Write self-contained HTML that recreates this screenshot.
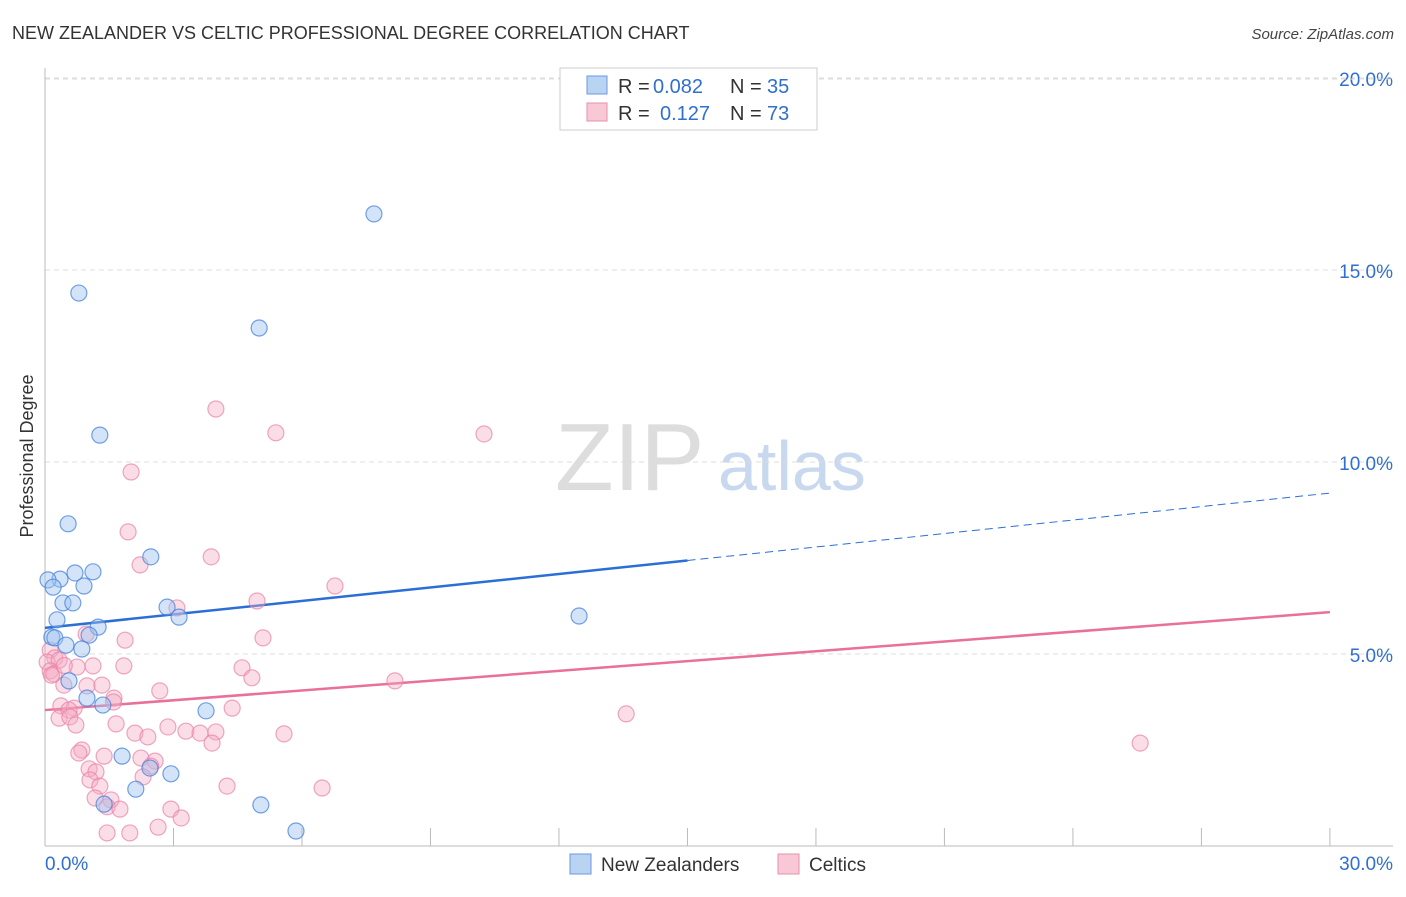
<!DOCTYPE html>
<html><head><meta charset="utf-8"><style>
body{margin:0;background:#fff;font-family:"Liberation Sans",sans-serif;}
svg text{font-family:"Liberation Sans",sans-serif;}
</style></head><body>
<svg id="chart" width="1406" height="892" xmlns="http://www.w3.org/2000/svg">
<text x="12" y="39" font-size="18" fill="#333">NEW ZEALANDER VS CELTIC PROFESSIONAL DEGREE CORRELATION CHART</text>
<text x="1394" y="39" font-size="15" fill="#444" text-anchor="end" font-style="italic">Source: ZipAtlas.com</text>
<text transform="translate(33,456) rotate(-90)" font-size="18" fill="#333" text-anchor="middle">Professional Degree</text>
<g>
<text x="555" y="490" font-size="96" fill="#ddd" font-family="Liberation Serif">ZIP</text>
<text x="718" y="490" font-size="70" fill="#c8d8ee">atlas</text>
</g>
<g id="grid"></g><g id="lines"></g><g id="pts"></g>
<g>
<rect x="560" y="68" width="257" height="62" fill="#fff" stroke="#ccc"/>
<rect x="587" y="76" width="20" height="18" fill="#b9d3f3" stroke="#6a9ae0"/>
<rect x="587" y="103" width="20" height="18" fill="#f9c8d6" stroke="#ea8fab"/>
<text x="618" y="93" font-size="20" fill="#333">R =</text>
<text x="653" y="93" font-size="20" fill="#2f6fd1">0.082</text>
<text x="730" y="93" font-size="20" fill="#333">N =</text>
<text x="767" y="93" font-size="20" fill="#2f6fd1">35</text>
<text x="618" y="120" font-size="20" fill="#333">R =</text>
<text x="660" y="120" font-size="20" fill="#2f6fd1">0.127</text>
<text x="730" y="120" font-size="20" fill="#333">N =</text>
<text x="767" y="120" font-size="20" fill="#2f6fd1">73</text>
</g>
<g>
<rect x="570" y="854" width="21" height="20" fill="#b9d3f3" stroke="#6a9ae0"/>
<text x="601" y="871" font-size="19" fill="#333">New Zealanders</text>
<rect x="778" y="854" width="21" height="20" fill="#f9c8d6" stroke="#ea8fab"/>
<text x="809" y="871" font-size="19" fill="#333">Celtics</text>
</g>
</svg>
<script>
const yTicks=[5,10,15,20];
const yTickLabels=["5.0%","10.0%","15.0%","20.0%"];
const xTicks=[0,3,6,9,12,15,18,21,24,27,30];
const blueX=[0.79,7.68,5.0,1.28,0.54,2.47,1.12,0.70,0.35,0.07,0.19,0.91,0.42,0.65,2.85,3.13,0.28,1.24,0.16,1.03,0.23,0.49,0.86,12.47,0.56,0.98,1.35,3.76,1.80,2.45,2.94,2.12,1.38,5.04,5.86];
const blueY=[14.4,16.46,13.49,10.7,8.39,7.53,7.14,7.11,6.95,6.93,6.74,6.77,6.33,6.33,6.22,5.96,5.89,5.70,5.44,5.49,5.42,5.23,5.13,5.99,4.30,3.85,3.67,3.52,2.34,2.03,1.88,1.48,1.09,1.07,0.39];
const pinkX=[3.99,5.39,10.25,2.01,1.94,3.88,2.22,6.77,4.95,3.08,0.96,1.87,5.09,0.12,0.23,0.05,0.33,1.12,1.84,0.75,4.60,0.12,0.21,4.83,8.17,0.44,0.98,1.33,2.68,1.61,0.37,0.68,0.56,4.37,13.57,0.33,0.58,0.72,1.66,2.87,3.29,2.10,3.62,3.99,2.40,5.58,3.90,25.57,0.86,0.79,1.38,2.24,2.57,2.47,1.03,1.19,1.05,2.29,1.28,4.25,6.47,1.17,1.54,1.45,1.75,2.94,3.18,2.64,1.45,1.98,0.15,0.45,1.60];
const pinkY=[11.38,10.76,10.73,9.74,8.18,7.53,7.32,6.77,6.38,6.20,5.52,5.36,5.42,5.10,4.90,4.79,4.84,4.69,4.69,4.66,4.64,4.56,4.48,4.38,4.30,4.19,4.17,4.19,4.04,3.85,3.65,3.59,3.54,3.59,3.44,3.33,3.36,3.15,3.18,3.10,2.99,2.94,2.94,2.97,2.84,2.92,2.68,2.68,2.50,2.42,2.34,2.29,2.21,2.08,2.01,1.93,1.72,1.80,1.56,1.56,1.51,1.25,1.20,1.02,0.96,0.96,0.73,0.49,0.34,0.34,4.45,4.70,3.75];
const blueFit=[5.68,9.19];
const pinkFit=[3.54,6.09];
const xs=v=>45+v*42.83, ys=v=>846-v*38.4;
const NS="http://www.w3.org/2000/svg";
function mk(tag,attrs,parent){const e=document.createElementNS(NS,tag);for(const k in attrs)e.setAttribute(k,attrs[k]);parent.appendChild(e);return e;}
const grid=document.getElementById('grid');
yTicks.forEach((t,i)=>{
 const l=mk('line',{x1:45,x2:1393,y1:ys(t),y2:ys(t),stroke:'#ddd','stroke-dasharray':'5,4'},grid);
 
 const tx=mk('text',{x:1393,y:ys(t)+8,'font-size':19,fill:'#2f6fd1','text-anchor':'end'},grid);tx.textContent=yTickLabels[i];
 
});
const topGrid=mk('line',{x1:45,x2:1393,y1:79,y2:79,stroke:'#ddd','stroke-dasharray':'5,4'},grid);

const ax=mk('line',{x1:45,x2:45,y1:68,y2:846,stroke:'#bbb'},grid);

const bx=mk('line',{x1:45,x2:1393,y1:846,y2:846,stroke:'#bbb'},grid);

xTicks.forEach(t=>{const l=mk('line',{x1:xs(t),x2:xs(t),y1:828,y2:846,stroke:'#bbb'},grid);
 });
let t0=mk('text',{x:45,y:870,'font-size':19,fill:'#2f6fd1'},grid);t0.textContent="0.0%";

let t1=mk('text',{x:1393,y:870,'font-size':19,fill:'#2f6fd1','text-anchor':'end'},grid);t1.textContent="30.0%";

const pts=document.getElementById('pts');
pinkX.forEach((x,i)=>{const c=mk('circle',{cx:xs(x),cy:ys(pinkY[i]),r:8,fill:'rgba(246,170,195,0.4)',stroke:'rgba(232,130,165,0.7)','stroke-width':1.2},pts);
 });
blueX.forEach((x,i)=>{const c=mk('circle',{cx:xs(x),cy:ys(blueY[i]),r:8,fill:'rgba(160,195,240,0.45)',stroke:'rgba(70,130,220,0.75)','stroke-width':1.2},pts);
 });
const lines=document.getElementById('lines');
const bAt=x=>blueFit[0]+(blueFit[1]-blueFit[0])*x/30;
let bl=mk('line',{x1:xs(0),y1:ys(bAt(0)),x2:xs(15),y2:ys(bAt(15)),stroke:'#2b6fd6','stroke-width':2.5},lines);

let bd=mk('line',{x1:xs(15),y1:ys(bAt(15)),x2:xs(30),y2:ys(bAt(30)),stroke:'#2b6fd6','stroke-width':1,'stroke-dasharray':'8,5'},lines);

let pl=mk('line',{x1:xs(0),y1:ys(pinkFit[0]),x2:xs(30),y2:ys(pinkFit[1]),stroke:'#e8709a','stroke-width':2.5},lines);

</script>
</body></html>
